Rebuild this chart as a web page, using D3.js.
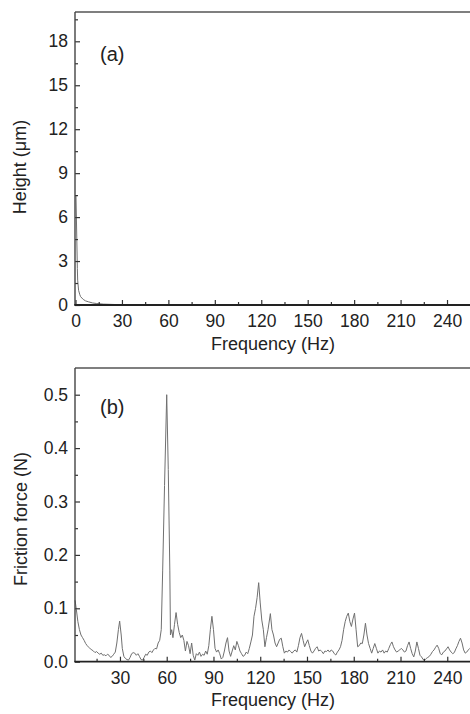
<!DOCTYPE html>
<html>
<head>
<meta charset="utf-8">
<script src="https://cdn.jsdelivr.net/npm/d3@7"></script>
<style>
  html, body { margin: 0; padding: 0; background: #fff; }
  svg { display: block; }
  text { font-family: "Liberation Sans", Arial, sans-serif; fill: #222; }
</style>
</head>
<body>
<svg id="chart" width="470" height="714"></svg>
<script>
// ---------- DATA ----------
// Panel (a): height spectrum
const freqA   = [0.3, 1.2, 1.4, 2, 2.8, 3.3, 5, 6.5, 8.3, 11, 13.7, 18, 25, 35, 50, 80, 150, 255];
const heightA = [7.5, 2.5, 1.7, 1.0, 0.7, 0.57, 0.38, 0.28, 0.22, 0.14, 0.1, 0.06, 0.035, 0.02, 0.015, 0.01, 0.006, 0.004];

// Panel (b): friction force spectrum
const freqB = [
  1.2, 2, 3, 4, 5, 6, 7, 8, 9, 10, 11, 12, 13, 14, 15, 16, 17, 18, 19, 20,
  21, 22, 23, 24, 25, 26, 27, 28, 29, 29.8, 30.8, 31.5, 32.5, 33.5, 34.5, 35.5, 36.5, 37.5, 38.5, 39.5,
  40.5, 41.5, 42.5, 43.5, 44.5, 45.5, 46.5, 47.5, 48.5, 49.5, 50.5, 51.5, 52.5, 53.5, 54.5, 55.5, 56.5, 57.4, 58.6, 60,
  61, 62, 62.4, 63.2, 64, 65, 66, 67, 68, 69, 70, 71, 72, 73, 74, 75, 76, 77, 78, 79,
  80, 81, 82, 83, 84, 85, 86, 87, 88, 89, 90, 91, 92, 93, 94, 95, 96, 97, 98, 99,
  100, 101, 102, 103, 104, 105, 106, 107, 108, 109, 110, 111, 112, 113, 114, 115, 116, 117, 118, 119,
  120, 121, 122, 123, 124, 125, 126.5, 127.5, 128.5, 129.5, 130.5, 131.5, 132.5, 133.5, 134.5, 135.5, 136.5, 137.5, 138.5, 139.5,
  140.5, 141.5, 142.5, 143.5, 144.5, 145.5, 146.5, 147.5, 148.5, 149.5, 150.5, 151.5, 152.5, 153.5, 154.5, 155.5, 156.5, 157.5, 158.5, 159.5,
  160.5, 161.5, 162.5, 163.5, 164.5, 165.5, 166.5, 167.5, 168.5, 169.5, 170.5, 171.5, 172.5, 173.5, 174.5, 175.5, 176.5, 177.5, 178.5, 179.5,
  180.5, 181.5, 182.5, 183.5, 184.5, 185.5, 186.5, 187.5, 188.5, 189.5, 190.5, 191.5, 192.5, 193.5, 194.5, 195.5, 196.5, 197.5, 198.5, 199.5,
  200.5, 201.5, 202.5, 203.5, 204.5, 205.5, 206.5, 207.5, 208.5, 209.5, 210.5, 211.5, 212.5, 213.5, 214.5, 215.5, 216.5, 217.5, 218.5, 219.5,
  220.5, 221.5, 222.5, 223.5, 224.5, 225.5, 226.5, 227.5, 228.5, 229.5, 230.5, 231.5, 232.5, 233.5, 234.5, 235.5, 236.5, 237.5, 238.5, 239.5,
  240.5, 241.5, 242.5, 243.5, 244.5, 245.5, 246.5, 247.5, 248.5, 249.5, 250.5, 251.5, 252.5, 253.5, 254.5, 256
];
const forceB = [
  0.115, 0.098, 0.075, 0.06, 0.05, 0.045, 0.04, 0.034, 0.03, 0.027, 0.024, 0.022, 0.02, 0.017, 0.019, 0.016, 0.014, 0.016, 0.012, 0.013,
  0.011, 0.014, 0.012, 0.008, 0.01, 0.014, 0.018, 0.035, 0.06, 0.076, 0.05, 0.025, 0.01, 0.006, 0.004, 0.003, 0.008, 0.015, 0.017, 0.016,
  0.012, 0.015, 0.01, 0.004, 0.003, 0.008, 0.014, 0.012, 0.018, 0.02, 0.017, 0.022, 0.025, 0.024, 0.035, 0.04, 0.06, 0.17, 0.33, 0.5,
  0.36, 0.17, 0.05, 0.06, 0.045, 0.07, 0.092, 0.07, 0.055, 0.045, 0.05, 0.04, 0.02, 0.038, 0.03, 0.015, 0.035, 0.012, 0.003, 0.015,
  0.012, 0.018, 0.01, 0.014, 0.012, 0.02, 0.014, 0.03, 0.06, 0.085, 0.06, 0.025, 0.018, 0.022, 0.015, 0.005, 0.008, 0.02, 0.035, 0.045,
  0.02, 0.01, 0.02, 0.03, 0.022, 0.038, 0.03, 0.02, 0.015, 0.01, 0.012, 0.018, 0.015, 0.025, 0.037, 0.05, 0.085, 0.1, 0.12, 0.148,
  0.11, 0.078, 0.06, 0.028, 0.045, 0.06, 0.09, 0.06, 0.05, 0.035, 0.028, 0.035, 0.042, 0.044, 0.028, 0.016, 0.02, 0.018, 0.022, 0.019,
  0.016, 0.02, 0.022, 0.018, 0.03, 0.045, 0.053, 0.04, 0.028, 0.035, 0.041, 0.03, 0.02, 0.016, 0.02, 0.025, 0.028, 0.02, 0.022, 0.019,
  0.015, 0.02, 0.019, 0.022, 0.018, 0.022, 0.02, 0.015, 0.0125, 0.018, 0.022, 0.028, 0.04, 0.06, 0.075, 0.085, 0.091, 0.075, 0.066, 0.08,
  0.091, 0.06, 0.028, 0.03, 0.035, 0.034, 0.05, 0.072, 0.05, 0.034, 0.025, 0.016, 0.025, 0.034, 0.025, 0.016, 0.02, 0.018, 0.022, 0.016,
  0.02, 0.018, 0.025, 0.032, 0.037, 0.028, 0.022, 0.018, 0.02, 0.022, 0.025, 0.022, 0.018, 0.02, 0.03, 0.037, 0.025, 0.015, 0.009, 0.02,
  0.037, 0.025, 0.012, 0.009, 0.004, 0.003, 0.006, 0.008, 0.01, 0.014, 0.019, 0.022, 0.027, 0.031, 0.025, 0.015, 0.013, 0.018, 0.02, 0.024,
  0.028, 0.022, 0.018, 0.015, 0.017, 0.024, 0.03, 0.038, 0.044, 0.035, 0.022, 0.016, 0.018, 0.022, 0.025, 0.022
];

const xTicksA = [0, 30, 60, 90, 120, 150, 180, 210, 240];
const xTicksB = [30, 60, 90, 120, 150, 180, 210, 240];
const xMinor  = [15, 45, 75, 105, 135, 165, 195, 225, 255];
const yTicksA = [0, 3, 6, 9, 12, 15, 18];
const yMinorA = [1.5, 4.5, 7.5, 10.5, 13.5, 16.5, 19.5];
const yTicksB = [0, 0.1, 0.2, 0.3, 0.4, 0.5];
const yMinorB = [0.05, 0.15, 0.25, 0.35, 0.45];

const labelA = "(a)", labelB = "(b)";
const xTitle = "Frequency (Hz)";
const yTitleA = "Height (μm)";
const yTitleB = "Friction force (N)";

// ---------- DRAW ----------
const svg = d3.select("#chart");
const W = 470;

function panel(cfg) {
  const g = svg.append("g");
  const x = cfg.x, y = cfg.y;
  const [y0, y1] = y.range(); // bottom, top
  const xl = 75, xr = 472;

  // data line
  const line = d3.line().x(d => x(d[0])).y(d => y(d[1]));
  g.append("path")
    .datum(d3.zip(cfg.fx, cfg.fy))
    .attr("d", line)
    .attr("fill", "none")
    .attr("stroke", "#707070")
    .attr("stroke-width", 1)
    .attr("stroke-linejoin", "round");

  // x major ticks
  const ax = g.append("g").attr("transform", `translate(0,${y0})`)
    .call(d3.axisBottom(x).tickValues(cfg.xTicks).tickFormat(d3.format("d"))
      .tickSizeInner(-5).tickSizeOuter(0).tickPadding(9.6));
  const axm = g.append("g").attr("transform", `translate(0,${y0})`)
    .call(d3.axisBottom(x).tickValues(xMinor).tickFormat("")
      .tickSizeInner(-3).tickSizeOuter(0));
  // y ticks
  const ay = g.append("g").attr("transform", `translate(${xl},0)`)
    .call(d3.axisLeft(y).tickValues(cfg.yTicks).tickFormat(cfg.yFmt)
      .tickSizeInner(-5).tickSizeOuter(0).tickPadding(7));
  const aym = g.append("g").attr("transform", `translate(${xl},0)`)
    .call(d3.axisLeft(y).tickValues(cfg.yMinor).tickFormat("")
      .tickSizeInner(-3).tickSizeOuter(0));

  [ax, axm, ay, aym].forEach(a => {
    a.select(".domain").remove();
    a.selectAll(".tick line").attr("stroke", "#333").attr("stroke-width", 1.2);
    a.selectAll(".tick text")
      .attr("font-family", '"Liberation Sans", Arial, sans-serif')
      .attr("font-size", 17.5).attr("fill", "#222");
  });

  // frame lines
  g.append("line").attr("x1", xl).attr("x2", xr).attr("y1", y1).attr("y2", y1)
    .attr("stroke", "#555").attr("stroke-width", 1.4);
  g.append("line").attr("x1", xl).attr("x2", xl).attr("y1", y1).attr("y2", y0)
    .attr("stroke", "#444").attr("stroke-width", 1.4);
  g.append("line").attr("x1", xl - 0.7).attr("x2", xr).attr("y1", y0).attr("y2", y0)
    .attr("stroke", "#222").attr("stroke-width", 1.8);

  // titles
  g.append("text").attr("x", 273).attr("y", cfg.xTitleY)
    .attr("text-anchor", "middle").attr("font-size", 18).text(xTitle);
  g.append("text")
    .attr("transform", `translate(${cfg.yTitleX},${cfg.yTitleC}) rotate(-90)`)
    .attr("text-anchor", "middle").attr("font-size", 18).text(cfg.yTitle);
  g.append("text").attr("x", 100).attr("y", cfg.labelY)
    .attr("font-size", 20).text(cfg.label);
}

const xA = d3.scaleLinear().domain([0, 255]).range([75.5, 75.5 + 255 * 1.548]);
const yA = d3.scaleLinear().domain([0, 20]).range([305, 12]);
const xB = d3.scaleLinear().domain([0, 255]).range([73.2, 73.2 + 255 * 1.5586]);
const yB = d3.scaleLinear().domain([0, 0.55]).range([661.7, 368]);

panel({
  x: xA, y: yA, fx: freqA, fy: heightA,
  xTicks: xTicksA, yTicks: yTicksA, yMinor: yMinorA, yFmt: d3.format("d"),
  xTitleY: 350, yTitle: yTitleA, yTitleX: 26, yTitleC: 167, label: labelA, labelY: 61
});
panel({
  x: xB, y: yB, fx: freqB, fy: forceB,
  xTicks: xTicksB, yTicks: yTicksB, yMinor: yMinorB, yFmt: d3.format(".1f"),
  xTitleY: 706, yTitle: yTitleB, yTitleX: 26.5, yTitleC: 519, label: labelB, labelY: 414
});
</script>
</body>
</html>
